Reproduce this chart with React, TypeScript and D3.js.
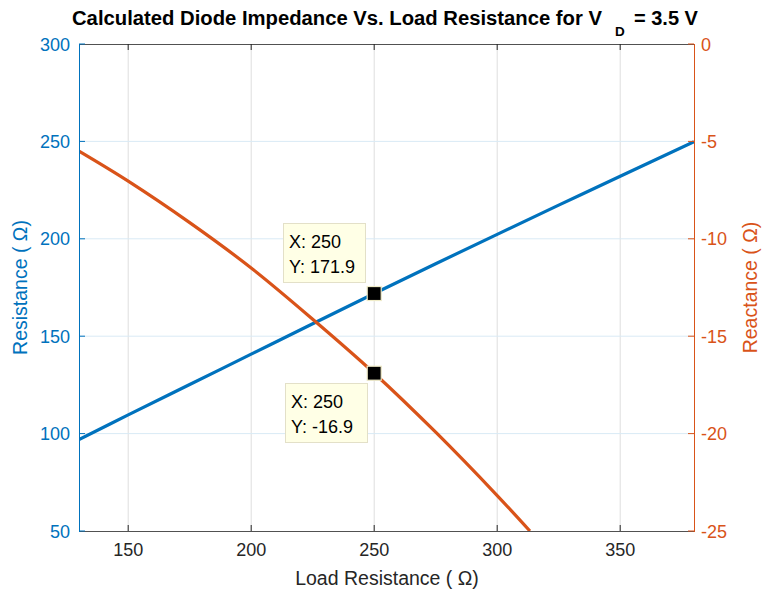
import React from "react";
import * as d3 from "d3";

const resistanceX = [130, 150, 175, 200, 225, 250, 275, 300, 325, 350, 380];
const resistanceY = [97, 109.6, 125.2, 140.8, 156.4, 171.9, 187.2, 202.3, 217.3, 232.1, 249.8];
const reactanceX = [130, 150, 175, 200, 225, 250, 275, 300, 313.3];
const reactanceY = [-5.5, -7.04, -9.17, -11.5, -14.13, -16.9, -19.93, -23.18, -25.0];
const xTicks = [150, 200, 250, 300, 350];
const leftTicks = [50, 100, 150, 200, 250, 300];
const rightTicks = [-25, -20, -15, -10, -5, 0];
const dataTips = [
  { x: 250, y: 171.9, axis: "left", label: ["X: 250", "Y: 171.9"] },
  { x: 250, y: -16.9, axis: "right", label: ["X: 250", "Y: -16.9"] },
];

const BLUE = "#0072BD";
const ORANGE = "#D95319";
const DARK = "#262626";
const FONT = "'Liberation Sans', Arial, Helvetica, sans-serif";

export default function App() {
  const L = 79, R = 694, T = 44, B = 531;
  const x = d3.scaleLinear().domain([130, 380]).range([L, R]);
  const yL = d3.scaleLinear().domain([50, 300]).range([B, T]);
  const yR = d3.scaleLinear().domain([-25, 0]).range([B, T]);

  const blueLine = d3.line<number>().x((_, i) => x(resistanceX[i])).y((d) => yL(d)).curve(d3.curveCatmullRom)(resistanceY) || "";
  const orangeLine = d3.line<number>().x((_, i) => x(reactanceX[i])).y((d) => yR(d)).curve(d3.curveCatmullRom)(reactanceY) || "";

  const tipBoxes = [
    { bx: 283, by: 223 },
    { bx: 285, by: 383 },
  ];

  return (
    <svg width={762} height={593} style={{ position: "absolute", left: 0, top: 0, background: "#fff" }} fontFamily={FONT}>
      <defs>
        <clipPath id="plotclip">
          <rect x={L} y={T} width={R - L} height={B - T} />
        </clipPath>
      </defs>
      <rect x={0} y={0} width={762} height={593} fill="#fff" />
      {xTicks.map((t) => (
        <line key={"gx" + t} x1={x(t)} x2={x(t)} y1={T} y2={B} stroke="#dedede" strokeWidth={1} />
      ))}
      {leftTicks.slice(1, -1).map((t) => (
        <line key={"gy" + t} x1={L} x2={R} y1={yL(t)} y2={yL(t)} stroke="#d9eaf5" strokeWidth={1} />
      ))}
      <g clipPath="url(#plotclip)">
        <path d={blueLine} fill="none" stroke={BLUE} strokeWidth={3.2} />
        <path d={orangeLine} fill="none" stroke={ORANGE} strokeWidth={3.2} />
      </g>
      {dataTips.map((d, i) => {
        const cx = x(d.x);
        const cy = d.axis === "left" ? yL(d.y) : yR(d.y);
        return <rect key={"m" + i} x={cx - 7} y={cy - 7} width={14} height={14} fill="#000" stroke="#f0ecc8" strokeWidth={1.2} />;
      })}
      <line x1={L} x2={R} y1={T + 0.5} y2={T + 0.5} stroke={DARK} strokeWidth={1} opacity={0.8} />
      <line x1={L} x2={R} y1={B + 0.5} y2={B + 0.5} stroke={DARK} strokeWidth={1} opacity={0.8} />
      <line x1={L + 0.5} x2={L + 0.5} y1={T} y2={B + 1} stroke={BLUE} strokeWidth={1} />
      <line x1={R + 0.5} x2={R + 0.5} y1={T} y2={B + 1} stroke={ORANGE} strokeWidth={1} />
      {xTicks.map((t) => (
        <g key={"xt" + t}>
          <line x1={x(t)} x2={x(t)} y1={B} y2={B - 6} stroke={DARK} />
          <line x1={x(t)} x2={x(t)} y1={T} y2={T + 6} stroke={DARK} />
          <text x={x(t)} y={556} textAnchor="middle" fontSize={18} fill={DARK}>{t}</text>
        </g>
      ))}
      {leftTicks.map((t) => (
        <g key={"lt" + t}>
          <line x1={L} x2={L + 6} y1={yL(t)} y2={yL(t)} stroke={BLUE} />
          <text x={70} y={yL(t) + 6.5} textAnchor="end" fontSize={18} fill={BLUE}>{t}</text>
        </g>
      ))}
      {rightTicks.map((t) => (
        <g key={"rt" + t}>
          <line x1={R} x2={R - 6} y1={yR(t)} y2={yR(t)} stroke={ORANGE} />
          <text x={701} y={yR(t) + 6.5} textAnchor="start" fontSize={18} fill={ORANGE}>{t}</text>
        </g>
      ))}
      <text x={387} y={585} textAnchor="middle" fontSize={19.5} fill={DARK}>Load Resistance ( Ω)</text>
      <text transform={`translate(27,${(T + B) / 2}) rotate(-90)`} textAnchor="middle" fontSize={19.5} fill={BLUE}>Resistance ( Ω)</text>
      <text transform={`translate(757,${(T + B) / 2}) rotate(-90)`} textAnchor="middle" fontSize={19.5} fill={ORANGE}>Reactance ( Ω)</text>
      <text x={72} y={25} fontSize={20} fontWeight="bold" fill="#000" textLength={530} lengthAdjust="spacingAndGlyphs">
        Calculated Diode Impedance Vs. Load Resistance for V
      </text>
      <text x={615} y={36} fontSize={13.5} fontWeight="bold" fill="#000">D</text>
      <text x={634} y={25} fontSize={20} fontWeight="bold" fill="#000">= 3.5 V</text>
      {dataTips.map((d, i) => (
        <g key={"tip" + i}>
          <rect x={tipBoxes[i].bx + 0.5} y={tipBoxes[i].by + 0.5} width={82} height={59} fill="#ffffe6" stroke="#e3e0c8" strokeWidth={1} />
          <text x={tipBoxes[i].bx + 6} y={tipBoxes[i].by + 25} fontSize={18} fill="#000">{d.label[0]}</text>
          <text x={tipBoxes[i].bx + 6} y={tipBoxes[i].by + 50} fontSize={18} fill="#000">{d.label[1]}</text>
        </g>
      ))}
    </svg>
  );
}
